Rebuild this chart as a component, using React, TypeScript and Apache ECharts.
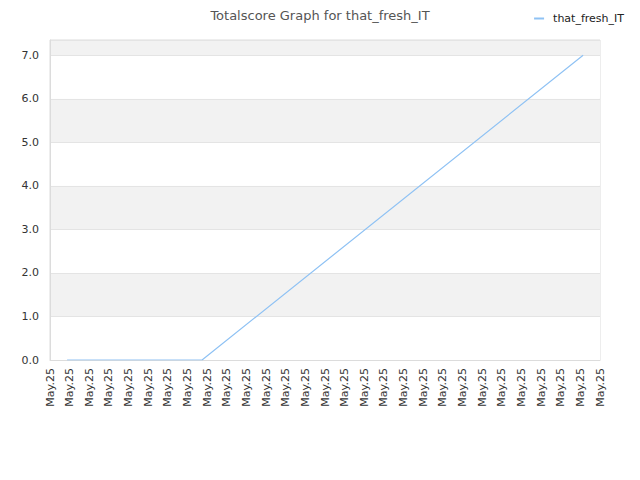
import { useEffect, useRef } from "react";
import * as echarts from "echarts";

const dateLabels: string[] = Array(29).fill("May.25");
// sample position (in label slots) and totalscore
const samplePos = [0.87, 7.74, 27.14];
const scores = [0, 0, 7];
const yTicks = [0, 1, 2, 3, 4, 5, 6, 7];

export default function App() {
  const ref = useRef<HTMLDivElement | null>(null);

  useEffect(() => {
    if (!ref.current) return;
    const chart = echarts.init(ref.current, undefined, { renderer: "svg" });
    const font = "DejaVu Sans, sans-serif";

    chart.setOption({
      animation: false,
      title: {
        text: "Totalscore Graph for that_fresh_IT",
        left: "center",
        top: 4,
        textStyle: { fontFamily: font, fontSize: 13, fontWeight: "normal", color: "#555" },
      },
      legend: {
        right: 11,
        top: 8,
        itemWidth: 10,
        itemHeight: 2,
        itemGap: 10,
        icon: "rect",
        textStyle: { fontFamily: font, fontSize: 11, color: "#222", padding: [0, 0, 0, 4] },
        data: ["that_fresh_IT"],
      },
      grid: {
        left: 50,
        right: 40,
        top: 40,
        bottom: 120,
        show: true,
        borderColor: "#dcdcdc",
        borderWidth: 1,
      },
      xAxis: [
        {
          type: "category",
          data: dateLabels,
          boundaryGap: false,
          axisLine: { lineStyle: { color: "#dcdcdc" } },
          axisTick: { show: false },
          axisLabel: {
            interval: 0,
            rotate: 90,
            fontFamily: font,
            fontSize: 11,
            color: "#333",
            margin: 8,
          },
        },
        {
          type: "value",
          min: 0,
          max: dateLabels.length - 1,
          show: false,
        },
      ],
      yAxis: {
        type: "value",
        min: 0,
        max: 7.35,
        interval: 1,
        axisLine: { show: true, lineStyle: { color: "#dcdcdc" } },
        axisTick: { show: false },
        axisLabel: {
          fontFamily: font,
          fontSize: 11,
          color: "#333",
          margin: 11,
          formatter: (v: number) => (yTicks.includes(v) ? v.toFixed(1) : ""),
        },
        splitLine: { show: true, lineStyle: { color: "#e4e4e4" } },
        splitArea: { show: true, areaStyle: { color: ["#ffffff", "#f2f2f2"] } },
      },
      series: [
        {
          name: "that_fresh_IT",
          type: "line",
          xAxisIndex: 1,
          data: samplePos.map((p, i) => [p, scores[i]]),
          showSymbol: false,
          lineStyle: { color: "#8fc2f4", width: 1.2 },
          itemStyle: { color: "#8fc2f4" },
        },
      ],
    });

    return () => chart.dispose();
  }, []);

  return <div ref={ref} style={{ width: 640, height: 480, margin: -8 }} />;
}
